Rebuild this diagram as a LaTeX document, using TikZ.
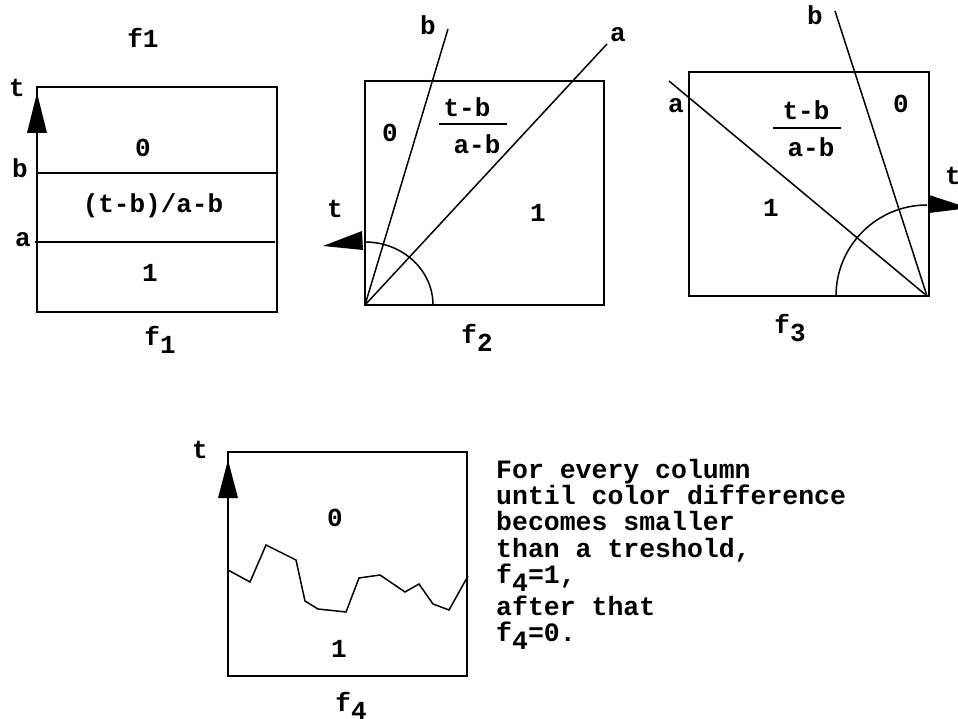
\documentclass[tikz,border=0pt]{standalone}
\usepackage{fontspec}
\setmainfont{Liberation Mono}
\newcommand\lowr[1]{\raisebox{-8pt}{#1}}
\tikzset{
  lbl/.style={font=\fontsize{26}{30}\selectfont\bfseries, inner sep=0pt, anchor=base},
  txt/.style={font=\fontsize{26.5}{30}\selectfont\bfseries, inner sep=0pt, anchor=base west},
  frame/.style={line width=1.9pt},
  ray/.style={line width=1.5pt},
  head/.style={fill=black, draw=none}
}
\begin{document}
\begin{tikzpicture}[x=1pt,y=-1pt]
\useasboundingbox (0,0) rectangle (958,719);

% ---------- f1 ----------
\node[lbl] (f1title) at (143,48) {f1};
\draw[frame] (37,87) rectangle (277,312);
\coordinate (b1L) at (37,173); \coordinate (b1R) at (277,173);
\coordinate (a1L) at (35,242); \coordinate (a1R) at (275,242);
\draw[ray] (b1L) -- (b1R);
\draw[ray] (a1L) -- (a1R);
\fill[head] (37,93) -- (27,133) -- (47,133) -- cycle;
\node[lbl] (t1) at (17,97) {t};
\node[lbl] (bl1) at (20,178) {b};
\node[lbl] (al1) at (23,247) {a};
\node[lbl] (z1) at (143,157) {0};
\node[lbl] (m1) at (153,213) {(t-b)/a-b};
\node[lbl] (o1) at (150,282) {1};
\node[lbl] (f1) at (160,345) {f\lowr{1}};

% ---------- f2 ----------
\draw[frame] (365,81) rectangle (604,305);
\coordinate (O2) at (365,305);
\coordinate (B2) at (448,29);
\coordinate (A2) at (607,44);
\draw[ray] (O2) -- (B2);
\draw[ray] (O2) -- (A2);
\draw[ray] (433,305) arc[start angle=0, end angle=90, x radius=68pt, y radius=63pt];
\fill[head] (323,246) -- (362,231) -- (363,250) -- cycle;
\node[lbl] (bl2) at (428,35) {b};
\node[lbl] (al2) at (618,42) {a};
\node[lbl] (z2) at (390,142) {0};
\node[lbl] (n2) at (467,117) {t-b};
\draw[ray] (439,124) -- (507,124);
\node[lbl] (d2) at (477,154) {a-b};
\node[lbl] (o2) at (538,222) {1};
\node[lbl] (t2) at (335,218) {t};
\node[lbl] (f2) at (477,343) {f\lowr{2}};

% ---------- f3 ----------
\draw[frame] (689,72) rectangle (929,296);
\coordinate (O3) at (927,296);
\coordinate (B3) at (835,11);
\coordinate (A3) at (669,81);
\draw[ray] (O3) -- (B3);
\draw[ray] (O3) -- (A3);
\draw[ray] (836,296) arc[start angle=180, end angle=90, radius=91pt];
\fill[head] (929,195) -- (969,208) -- (929,213) -- cycle;
\node[lbl] (bl3) at (815,25) {b};
\node[lbl] (al3) at (676,113) {a};
\node[lbl] (z3) at (901,113) {0};
\node[lbl] (n3) at (806,120) {t-b};
\draw[ray] (773,128) -- (841,128);
\node[lbl] (d3) at (811,157) {a-b};
\node[lbl] (o3) at (771,217) {1};
\node[lbl] (t3) at (953,185) {t};
\node[lbl] (f3) at (790,333) {f\lowr{3}};

% ---------- f4 ----------
\draw[frame] (228,452) rectangle (467,676);
\fill[head] (228,460) -- (218,498) -- (238,498) -- cycle;
\draw[ray, line join=miter] (228,570) -- (250,582) -- (266,545) -- (296,560) -- (305,601)
  -- (318,609) -- (346,612) -- (359,578) -- (380,575) -- (405,592) -- (419,584)
  -- (433,604) -- (449,610) -- (468,576);
\node[lbl] (t4) at (200,458) {t};
\node[lbl] (z4) at (335,526) {0};
\node[lbl] (o4) at (339,657) {1};
\node[lbl] (f4) at (351,711) {f\lowr{4}};

% ---------- text ----------
\node[txt] (l1) at (496,478) {For every column};
\node[txt] (l2) at (496,504) {until color difference};
\node[txt] (l3) at (496,530) {becomes smaller};
\node[txt] (l4) at (496,557) {than a treshold,};
\node[txt] (l5) at (496,583) {f\lowr{4}=1,};
\node[txt] (l6) at (496,615) {after that};
\node[txt] (l7) at (496,641) {f\lowr{4}=0.};
\end{tikzpicture}
\end{document}
